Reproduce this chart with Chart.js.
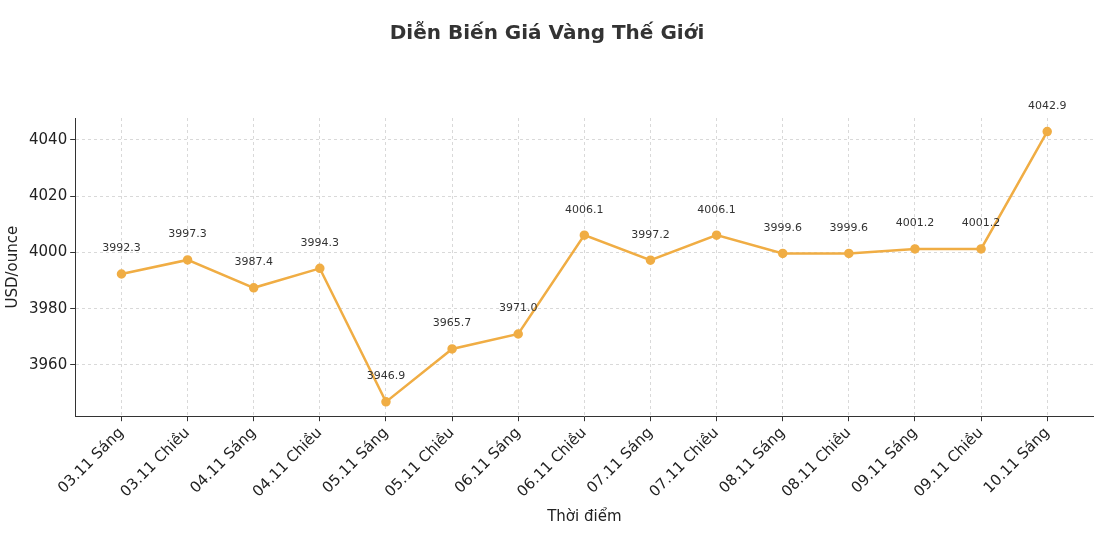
<!DOCTYPE html>
<html>
<head>
<meta charset="utf-8">
<script src="https://cdn.jsdelivr.net/npm/chart.js@4"></script>
<style>
  body { margin: 0; background: #fff; }
  #wrap { width: 1100px; height: 540px; }
</style>
</head>
<body>
<div id="wrap"><canvas id="goldChart"></canvas></div>
<script>
// Dữ liệu
const labels = ['03.11 Sáng', '03.11 Chiều', '04.11 Sáng', '04.11 Chiều', '05.11 Sáng',
  '05.11 Chiều', '06.11 Sáng', '06.11 Chiều', '07.11 Sáng', '07.11 Chiều',
  '08.11 Sáng', '08.11 Chiều', '09.11 Sáng', '09.11 Chiều', '10.11 Sáng'];
const prices = [3992.3, 3997.3, 3987.4, 3994.3, 3946.9, 3965.7, 3971.0, 4006.1,
  3997.2, 4006.1, 3999.6, 3999.6, 4001.2, 4001.2, 4042.9];
const yTicks = [3960, 3980, 4000, 4020, 4040];

// Nhãn giá trị phía trên mỗi điểm
const valueLabels = {
  id: 'valueLabels',
  afterDatasetsDraw(chart) {
    const ctx = chart.ctx;
    const meta = chart.getDatasetMeta(0);
    ctx.save();
    ctx.font = '11px "DejaVu Sans"';
    ctx.fillStyle = '#333';
    ctx.textAlign = 'center';
    ctx.textBaseline = 'bottom';
    meta.data.forEach((pt, i) => {
      ctx.fillText(prices[i].toFixed(1), pt.x, pt.y - 20);
    });
    ctx.restore();
  }
};

new Chart(document.getElementById('goldChart').getContext('2d'), {
  type: 'line',
  data: {
    datasets: [{
      data: prices.map((p, i) => ({ x: i, y: p })),
      borderColor: '#f0ad44',
      backgroundColor: '#f0ad44',
      borderWidth: 2.5,
      pointRadius: 3.5,
      tension: 0
    }]
  },
  plugins: [valueLabels],
  options: {
    responsive: true,
    maintainAspectRatio: false,
    animation: false,
    layout: { padding: { left: 0, right: 6, top: 0, bottom: 10 } },
    plugins: {
      legend: { display: false },
      tooltip: { enabled: false },
      title: {
        display: true,
        text: 'Diễn Biến Giá Vàng Thế Giới',
        color: '#333',
        font: { family: 'DejaVu Sans', size: 20, weight: 'bold' },
        padding: { top: 22, bottom: 72 }
      }
    },
    scales: {
      x: {
        type: 'linear',
        min: -0.7,
        max: 14.7,
        afterBuildTicks: axis => { axis.ticks = labels.map((_, i) => ({ value: i })); },
        ticks: {
          callback: v => labels[v],
          maxRotation: 45,
          minRotation: 45,
          color: '#222',
          font: { family: 'DejaVu Sans', size: 15 }
        },
        grid: { color: '#d9d9d9', tickColor: '#333', tickLength: 5 },
        border: { color: '#333', dash: [3, 3] },
        title: { display: true, text: 'Thời điểm', color: '#222', font: { family: 'DejaVu Sans', size: 15 } }
      },
      y: {
        min: 3941.8,
        max: 4047.7,
        afterBuildTicks: axis => { axis.ticks = yTicks.map(v => ({ value: v })); },
        ticks: { callback: v => String(v), color: '#222', font: { family: 'DejaVu Sans', size: 15 } },
        grid: { color: '#d9d9d9', tickColor: '#333', tickLength: 5 },
        border: { color: '#333', dash: [3, 3] },
        title: { display: true, text: 'USD/ounce', color: '#222', font: { family: 'DejaVu Sans', size: 15 } }
      }
    }
  }
});
</script>
</body>
</html>
